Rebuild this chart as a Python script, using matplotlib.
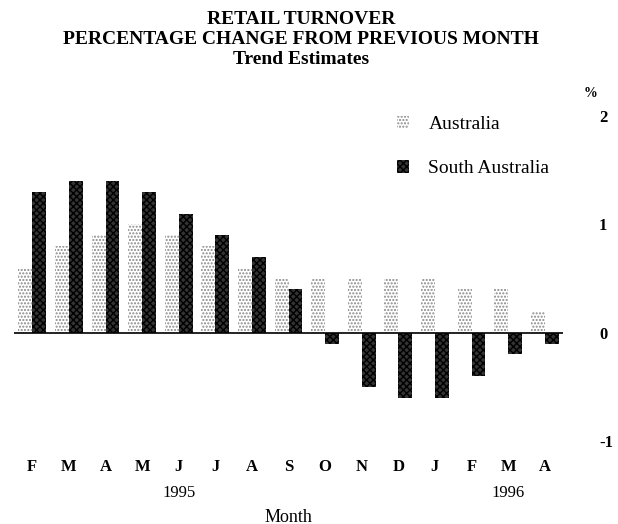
import matplotlib.pyplot as plt
import numpy as np

# data
months = ["F", "M", "A", "M", "J", "J", "A", "S", "O", "N", "D", "J", "F", "M", "A"]
australia = [0.6, 0.8, 0.9, 1.0, 0.9, 0.8, 0.6, 0.5, 0.5, 0.5, 0.5, 0.5, 0.4, 0.4, 0.2]
south_aus = [1.3, 1.4, 1.4, 1.3, 1.1, 0.9, 0.7, 0.4, -0.1, -0.5, -0.6, -0.6, -0.4, -0.2, -0.1]
years = {4: "1995", 13: "1996"}
title_lines = ["RETAIL TURNOVER", "PERCENTAGE CHANGE FROM PREVIOUS MONTH", "Trend Estimates"]

plt.rcParams['font.family'] = ['Liberation Serif', 'DejaVu Serif']
plt.rcParams['hatch.linewidth'] = 1.0

W, H = 618, 524
fig = plt.figure(figsize=(W / 100, H / 100), dpi=100)
ax = fig.add_axes([14 / W, 83 / H, 549 / W, 325 / H])

x = np.arange(len(months))
w = 0.38
ax.bar(x - w / 2, australia, w, facecolor='white', edgecolor='#888888',
       hatch='.....', linewidth=0, label='Australia')
ax.bar(x + w / 2, south_aus, w, facecolor='#333333', edgecolor='black',
       hatch='xxxxx', linewidth=0, label='South Australia')
ax.axhline(0, color='black', linewidth=1.2)

ax.set_xlim(-0.5, len(months) - 0.5)
ax.set_ylim(-1, 2)
for s in ax.spines.values():
    s.set_visible(False)

# y labels on the right, no tick marks
ax.yaxis.tick_right()
ax.set_yticks([-1, 0, 1, 2])
ax.set_yticklabels(['-1', '0', '1', '2'], fontsize=12, fontweight='bold')
ax.tick_params(axis='y', length=0, pad=26)
ax.text(1.05, 1.05, '%', transform=ax.transAxes, fontsize=10, fontweight='bold',
        ha='center', va='bottom')

ax.set_xticks(x)
ax.set_xticklabels(months, fontsize=12, fontweight='bold')
ax.tick_params(axis='x', length=0, pad=13)
for i, yr in years.items():
    ax.text(i, -1.48, yr, ha='center', va='center', fontsize=12)
fig.text(288 / W, 1 - 517 / H, 'Month', ha='center', va='center', fontsize=13)

ax.legend(loc='upper left', bbox_to_anchor=(0.698, 1.0), frameon=False, borderpad=0,
          borderaxespad=0, fontsize=14, labelspacing=1.4, handlelength=0.6,
          handleheight=0.6, handletextpad=1.0)

# title, one line at a time
for yy, line in zip([19, 39, 59], title_lines):
    fig.text(301 / W, 1 - yy / H, line, ha='center', va='center',
             fontsize=14, fontweight='bold')

fig.savefig('out.png', dpi=100)
